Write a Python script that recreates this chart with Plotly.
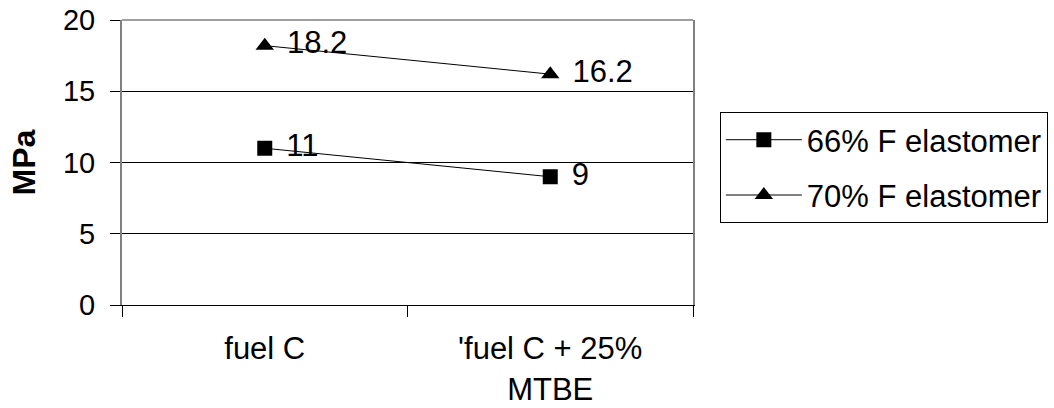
import plotly.graph_objects as go

categories = ["fuel C", "'fuel C + 25%<br>MTBE"]
series_names = ["66% F elastomer", "70% F elastomer"]
values_66 = [11, 9]
values_70 = [18.2, 16.2]
y_ticks = [0, 5, 10, 15, 20]

FONT = "Arial, Liberation Sans, sans-serif"
LABEL_TMPL = "\u00a0\u200a%{y}"

fig = go.Figure()
fig.add_trace(go.Scatter(
    x=categories, y=values_66, name=series_names[0],
    mode="lines+markers+text",
    line=dict(color="black", width=1),
    marker=dict(symbol="square", size=15, color="black"),
    texttemplate=LABEL_TMPL, textposition="middle right",
    textfont=dict(family=FONT, size=31, color="black"),
    legendgroup="a",
))
fig.add_trace(go.Scatter(
    x=categories, y=values_70, name=series_names[1],
    mode="lines+markers+text",
    line=dict(color="black", width=1),
    marker=dict(symbol="triangle-up", size=16, color="black"),
    texttemplate=LABEL_TMPL, textposition="middle right",
    textfont=dict(family=FONT, size=31, color="black"),
    legendgroup="b",
))

fig.update_layout(
    width=1054, height=408,
    margin=dict(l=122, r=361, t=20, b=103, autoexpand=False),
    paper_bgcolor="white", plot_bgcolor="white",
    font=dict(family=FONT, size=30, color="black"),
    legend=dict(
        x=1.047, y=0.677, xanchor="left", yanchor="top",
        bordercolor="black", borderwidth=1,
        font=dict(family=FONT, size=31, color="black"),
        tracegroupgap=12, itemwidth=76,
    ),
    shapes=[dict(type="line", xref="paper", yref="paper", x0=0, x1=1, y0=1, y1=1,
                 line=dict(color="#808080", width=1.5), layer="above")],
)
fig.update_xaxes(
    type="category", tickson="boundaries", ticks="outside", ticklen=11,
    tickcolor="black", showline=True, linecolor="black", linewidth=1,
    showgrid=False, tickfont=dict(family=FONT, size=31),
    ticklabelstandoff=16, range=[-0.5, 1.5],
)
fig.update_yaxes(
    range=[0, 20], tickvals=y_ticks, ticks="outside", ticklen=10,
    tickcolor="black", showline=True, linecolor="#808080", linewidth=2,
    mirror=True, showgrid=True, gridcolor="black", gridwidth=1,
    zeroline=False, tickfont=dict(family=FONT, size=29),
    ticklabelstandoff=9,
    title=dict(text="<b>MPa</b>", font=dict(family=FONT, size=32), standoff=18),
)

fig.write_html("out.html")
